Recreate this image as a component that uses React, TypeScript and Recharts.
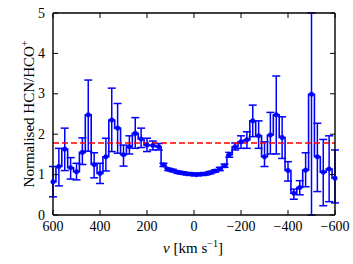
import React from 'react';
import { LineChart, Line, XAxis, YAxis, ErrorBar, ReferenceLine, Label } from 'recharts';

const velocities = [
  600, 575, 550, 525, 500, 475, 450, 425, 400, 375, 350, 325, 300, 275, 250, 225, 200, 175, 150,
  130, 110, 90, 70, 50, 30, 10, -10, -30, -50, -70, -90, -110, -130,
  -150, -175, -200, -225, -250, -275, -300, -325, -350, -375, -400, -425, -450, -475, -500, -525, -550, -575, -600,
];
const ratios = [
  0.82, 1.2, 1.63, 1.17, 1.07, 1.55, 2.48, 1.25, 1.03, 1.44, 2.35, 2.15, 1.49, 1.69, 2.02, 1.88, 1.73, 1.72, 1.69,
  1.24, 1.13, 1.1, 1.06, 1.04, 1.02, 1.01, 1.0, 1.01, 1.02, 1.05, 1.09, 1.14, 1.22,
  1.49, 1.69, 1.81, 1.86, 2.33, 1.96, 1.44, 1.98, 2.48, 1.92, 1.1, 0.54, 0.68, 1.11, 2.99, 1.44, 1.06, 1.14, 0.91,
];
const lowerBounds = [
  0.45, 0.72, 1.1, 0.89, 0.87, 1.25, 1.58, 0.92, 0.78, 1.09, 1.57, 1.53, 1.21, 1.51, 1.65, 1.67, 1.57, 1.61, 1.61,
  1.2, 1.1, 1.07, 1.03, 1.01, 0.99, 0.98, 0.97, 0.98, 0.99, 1.02, 1.06, 1.1, 1.18,
  1.43, 1.61, 1.65, 1.65, 1.94, 1.65, 1.2, 1.51, 1.51, 1.4, 0.84, 0.39, 0.5, 0.7, 0.0, 0.58, 0.23, 0.33, 0.3,
];
const upperBounds = [
  1.2, 1.65, 2.15, 1.42, 1.28, 1.91, 3.34, 1.54, 1.28, 1.9, 3.14, 2.76, 1.73, 1.96, 2.41, 2.15, 1.9, 1.83, 1.77,
  1.28, 1.16, 1.13, 1.09, 1.07, 1.05, 1.04, 1.03, 1.04, 1.05, 1.08, 1.12, 1.18, 1.26,
  1.55, 1.78, 1.96, 2.06, 2.72, 2.33, 1.81, 2.54, 3.44, 2.43, 1.32, 0.64, 0.85, 1.54, 5.0, 2.27, 1.87, 1.96, 1.61,
];
const xTicks = [600, 400, 200, 0, -200, -400, -600];
const yTicks = [0, 1, 2, 3, 4, 5];
const meanRatio = 1.78;

const data = velocities.map((v, i) => ({
  v,
  r: ratios[i],
  err: [ratios[i] - lowerBounds[i], upperBounds[i] - ratios[i]],
}));

const FONT = 'Liberation Serif';
const BLUE = '#0000ff';
const txt = { fontFamily: FONT };

const fmt = (v: number) => (v < 0 ? `\u2212${-v}` : `${v}`);

const BottomTick = (props: any) => {
  const { x, y, payload } = props;
  return (
    <g>
      <line x1={x} x2={x} y1={y} y2={y - 5} stroke="#000" strokeWidth={1} />
      <text x={x} y={y + 16} textAnchor="middle" style={txt} fontSize={14} fill="#000">
        {fmt(payload.value)}
      </text>
    </g>
  );
};
const TopTick = (props: any) => {
  const { x, y } = props;
  return <line x1={x} x2={x} y1={y} y2={y + 5} stroke="#000" strokeWidth={1} />;
};
const LeftTick = (props: any) => {
  const { x, y, payload } = props;
  return (
    <g>
      <line x1={x} x2={x + 5} y1={y} y2={y} stroke="#000" strokeWidth={1} />
      <text x={x - 8} y={y + 4.5} textAnchor="end" style={txt} fontSize={14} fill="#000">
        {fmt(payload.value)}
      </text>
    </g>
  );
};
const RightTick = (props: any) => {
  const { x, y } = props;
  return <line x1={x} x2={x - 5} y1={y} y2={y} stroke="#000" strokeWidth={1} />;
};

const YLabel = () => (
  <text transform="translate(34,114) rotate(-90)" textAnchor="middle" style={txt} fontSize={15} fill="#000">
    Normalised HCN/HCO
    <tspan dy={-6} fontSize={10}>+</tspan>
  </text>
);

const XLabel = () => (
  <text x={193} y={253} textAnchor="middle" style={txt} fontSize={15} fill="#000">
    <tspan fontStyle="italic">v</tspan> [km s
    <tspan dy={-6} fontSize={10}>{'\u2212'}1</tspan>
    <tspan dy={6}>]</tspan>
  </text>
);

export default function App() {
  return (
    <div style={{ position: 'absolute', left: 0, top: 0, width: 353, height: 264, background: '#fff' }}>
      <LineChart width={353} height={264} data={data} margin={{ top: 12, right: 17, left: 0, bottom: 0 }}>
        <XAxis
          dataKey="v"
          type="number"
          domain={[-600, 600]}
          reversed
          ticks={xTicks}
          interval={0}
          height={49}
          tickSize={0}
          tickMargin={0}
          tickLine={false}
          axisLine={{ stroke: '#000', strokeWidth: 1.4 }}
          tick={<BottomTick />}
        >
          <Label content={<XLabel />} />
        </XAxis>
        <YAxis
          type="number"
          domain={[0, 5]}
          allowDataOverflow
          ticks={yTicks}
          interval={0}
          width={53}
          tickSize={0}
          tickMargin={0}
          tickLine={false}
          axisLine={{ stroke: '#000', strokeWidth: 1.4 }}
          tick={<LeftTick />}
        >
          <Label content={<YLabel />} />
        </YAxis>
        <Line
          dataKey="r"
          type="step"
          stroke={BLUE}
          strokeWidth={1.6}
          dot={{ r: 2.3, fill: BLUE, stroke: BLUE, strokeWidth: 0.5 }}
          activeDot={false}
          isAnimationActive={false}
        >
          <ErrorBar dataKey="err" direction="y" width={4} stroke={BLUE} strokeWidth={1.5} />
        </Line>
        <ReferenceLine y={meanRatio} stroke="#ff0000" strokeWidth={1.5} strokeDasharray="6 3" />
        <XAxis
          xAxisId="top"
          orientation="top"
          dataKey="v"
          type="number"
          domain={[-600, 600]}
          reversed
          ticks={xTicks}
          interval={0}
          height={1}
          tickSize={0}
          tickMargin={0}
          tickLine={false}
          axisLine={{ stroke: '#000', strokeWidth: 1.4 }}
          tick={<TopTick />}
        />
        <YAxis
          yAxisId="right"
          orientation="right"
          type="number"
          domain={[0, 5]}
          allowDataOverflow
          ticks={yTicks}
          interval={0}
          width={1}
          tickSize={0}
          tickMargin={0}
          tickLine={false}
          axisLine={{ stroke: '#000', strokeWidth: 1.4 }}
          tick={<RightTick />}
        />
      </LineChart>
    </div>
  );
}
